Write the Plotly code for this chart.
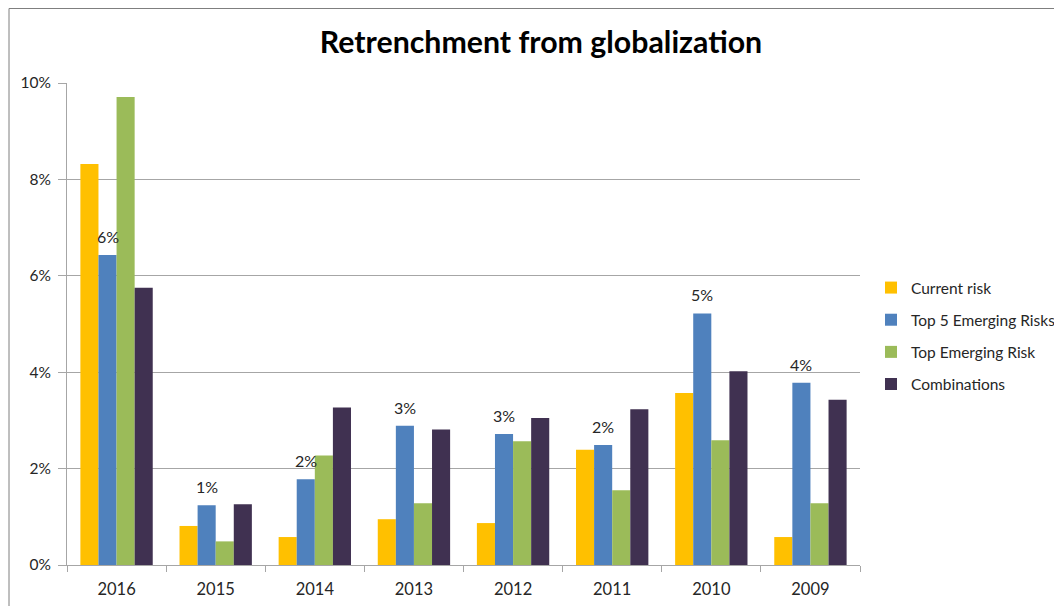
import plotly.graph_objects as go

# ── data ────────────────────────────────────────────────────────────────────
years = ["2016", "2015", "2014", "2013", "2012", "2011", "2010", "2009"]

current_risk = [0.0832, 0.0081, 0.0058, 0.0095, 0.0087, 0.0239, 0.0357, 0.0058]
top5_emerging = [0.0643, 0.0124, 0.0178, 0.0289, 0.0272, 0.0249, 0.0522, 0.0378]
top_emerging = [0.0971, 0.0049, 0.0227, 0.0128, 0.0257, 0.0155, 0.0259, 0.0128]
combinations = [0.0575, 0.0126, 0.0327, 0.0281, 0.0305, 0.0323, 0.0402, 0.0343]

y_ticks = [0, 0.02, 0.04, 0.06, 0.08, 0.10]

FONT = "Lato, Calibri, Carlito, sans-serif"
GRID = "#a6a6a6"
TXT = "#262626"

# the page puts the figure 8px in from the top-left corner
W, H = 1054, 598
L, T, R, B = 59, 75, 852, 557          # plot area in figure pixels
PW, PH = R - L, B - T
BARGAP = 0.27

series = [
    ("Current risk", current_risk, "#ffc000"),
    ("Top 5 Emerging Risks", top5_emerging, "#4f81bd"),
    ("Top Emerging Risk", top_emerging, "#9bbb59"),
    ("Combinations", combinations, "#403151"),
]

fig = go.Figure()
for name, vals, color in series:
    fig.add_trace(go.Bar(
        x=years, y=vals, name=name, legendgroup=name,
        marker=dict(color=color, line=dict(width=0)),
    ))

# data labels above the "Top 5 Emerging Risks" bars (2nd bar of each group)
bar_w_px = PW / len(years) * (1 - BARGAP) / len(series)
for i, v in enumerate(top5_emerging):
    fig.add_annotation(
        x=i, y=v, xref="x", yref="y", text=f"{v:.0%}",
        xshift=-bar_w_px / 2, yshift=7, yanchor="bottom", showarrow=False,
        font=dict(family=FONT, size=16, color=TXT),
    )

# chart border (left / top / right edges visible in reference)
fig.add_shape(
    type="rect", xref="paper", yref="paper",
    x0=(1 - L) / PW, x1=(1053 - L) / PW,
    y0=(B - 620) / PH, y1=(B - 0.5) / PH,
    line=dict(color="#7f7f7f", width=1), layer="below",
)

fig.update_layout(
    width=W, height=H,
    margin=dict(l=L, r=W - R, t=T, b=H - B, autoexpand=False),
    paper_bgcolor="white", plot_bgcolor="white",
    font=dict(family=FONT, size=16, color=TXT),
    title=dict(
        text="<b>Retrenchment from globalization</b>",
        x=533 / W, xanchor="center", y=1 - 34 / H, yanchor="middle",
        font=dict(family=FONT, size=30.3, color="#000000"),
    ),
    barmode="group", bargap=BARGAP, bargroupgap=0,
    legend=dict(
        x=(863 - L) / PW, xanchor="left", y=(B - 328) / PH, yanchor="middle",
        font=dict(family=FONT, size=15.5, color=TXT),
        tracegroupgap=9, bgcolor="rgba(0,0,0,0)",
    ),
    showlegend=True,
)

fig.update_xaxes(
    type="category", range=[-0.5, len(years) - 0.5],
    showgrid=False, showline=True, linecolor=GRID, linewidth=1,
    ticks="outside", tickson="boundaries", ticklen=6, tickcolor=GRID,
    ticklabelstandoff=9,
    tickfont=dict(family=FONT, size=16.5, color=TXT),
)
fig.update_yaxes(
    range=[0, 0.10], tickvals=y_ticks, tickformat=".0%",
    showgrid=True, gridcolor=GRID, gridwidth=1, zeroline=False,
    showline=True, linecolor=GRID, linewidth=1,
    ticks="outside", ticklen=8, tickcolor=GRID,
    ticklabelstandoff=4,
    tickfont=dict(family=FONT, size=15.5, color=TXT),
)

fig.write_html("out.html")
